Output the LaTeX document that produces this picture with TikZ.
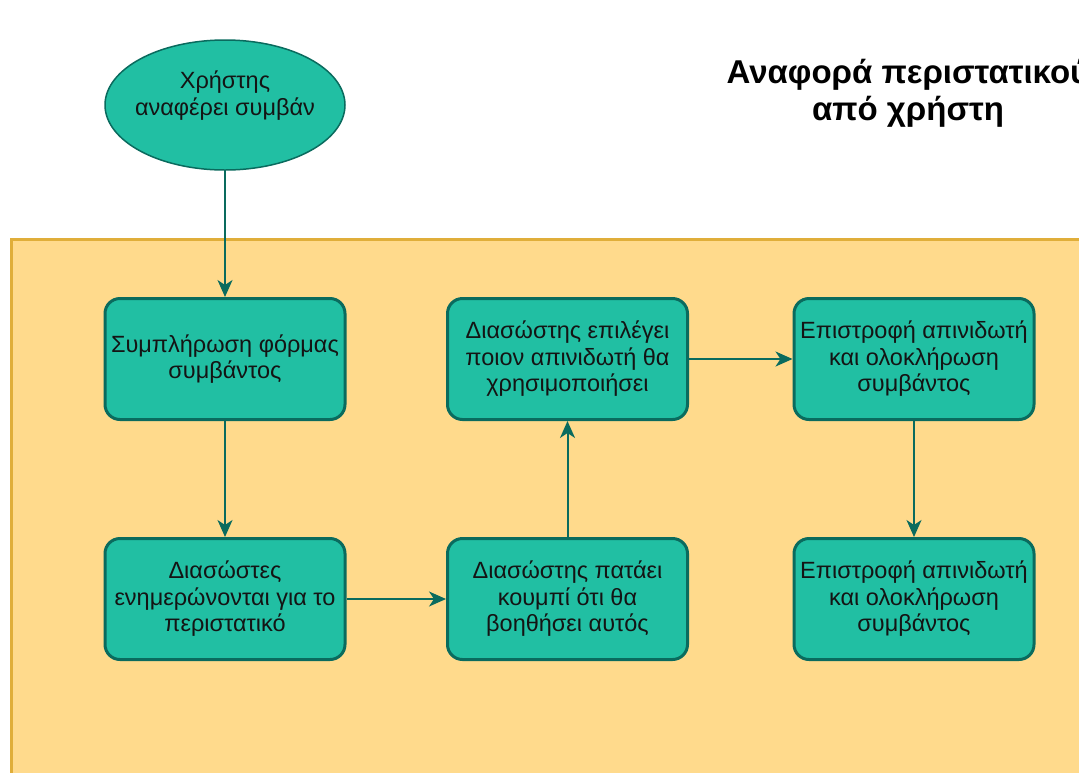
\documentclass[tikz,border=0pt]{standalone}
\usepackage{fontspec}
\setmainfont{Liberation Sans}
\usetikzlibrary{shapes.geometric,arrows.meta}
\definecolor{tealfill}{HTML}{21BFA3}
\definecolor{tealline}{HTML}{0A6B5E}
\definecolor{laneFill}{HTML}{FFDA8C}
\definecolor{laneLine}{HTML}{E0AE3A}
\definecolor{txt}{HTML}{141414}
\tikzset{
  stepbox/.style={draw=tealline, fill=tealfill, line width=3pt, rounded corners=15pt,
    minimum width=240pt, minimum height=121pt, align=center, text=txt,
    font=\fontsize{23.5}{26.5}\selectfont, inner sep=0pt},
  startnode/.style={ellipse, draw=tealline, fill=tealfill, line width=1.5pt,
    minimum width=240pt, minimum height=130pt, inner sep=0pt},
  caption/.style={align=center, text=txt, font=\fontsize{23.5}{27}\selectfont, inner sep=0pt},
  flow/.style={draw=tealline, line width=2pt, -{Stealth[length=17pt,width=15pt,inset=5pt]}},
}
\begin{document}
\begin{tikzpicture}[x=1pt,y=-1pt]
  \useasboundingbox (0,0) rectangle (1079,772);
  \clip (0,0) rectangle (1079,772);
  % swimlane background
  \fill[white] (0,0) rectangle (1079,772);
  \draw[fill=laneFill, draw=laneLine, line width=3pt] (11,239) rectangle (1100,800);

  % title (runs past the right edge of the page)
  \node[font=\bfseries\fontsize{33}{37}\selectfont, align=center, text=black] (title) at (908,93)
    {Αναφορά περιστατικού\\από χρήστη};

  % start event, its text set a little above the centre
  \node[startnode] (start) at (225,105) {};
  \node[caption] (startText) at (225,96) {Χρήστης\\αναφέρει συμβάν};

  % process steps
  \node[stepbox] (form) at (225,359) {Συμπλήρωση φόρμας\\συμβάντος};
  \node[stepbox] (notify) at (225,599) {Διασώστες\\ενημερώνονται για το\\περιστατικό};
  \node[stepbox] (accept) at (567.5,599) {Διασώστης πατάει\\κουμπί ότι θα\\βοηθήσει αυτός};
  \node[stepbox] (choose) at (567.5,359) {Διασώστης επιλέγει\\ποιον απινιδωτή θα\\χρησιμοποιήσει};
  \node[stepbox] (ret1) at (914,359) {Επιστροφή απινιδωτή\\και ολοκλήρωση\\συμβάντος};
  \node[stepbox] (ret2) at (914,599) {Επιστροφή απινιδωτή\\και ολοκλήρωση\\συμβάντος};

  % connectors
  \draw[flow] (start) -- (form);
  \draw[flow] (form) -- (notify);
  \draw[flow] (notify) -- (accept);
  \draw[flow] (accept) -- (choose);
  \draw[flow] (choose) -- (ret1);
  \draw[flow] (ret1) -- (ret2);
\end{tikzpicture}
\end{document}
